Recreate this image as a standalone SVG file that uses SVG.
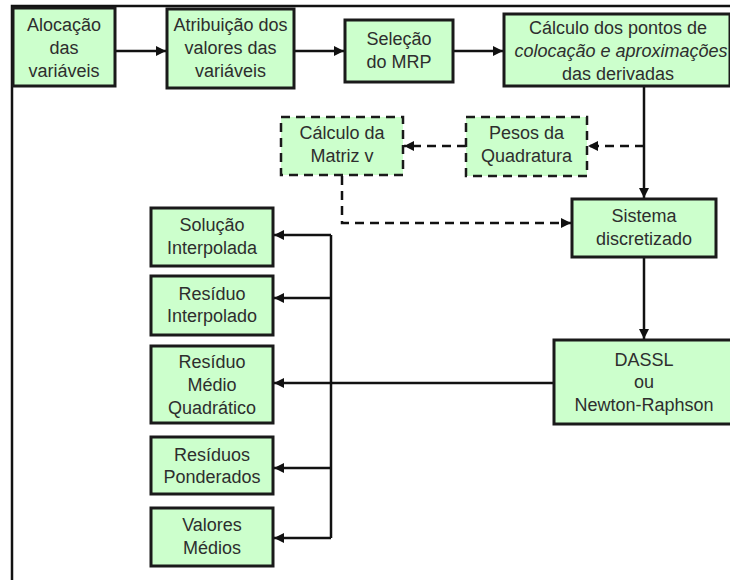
<svg xmlns="http://www.w3.org/2000/svg" width="730" height="580" viewBox="0 0 730 580">
<style>
.box{fill:#ccffcc;stroke:#1a1a1a;stroke-width:3}
.dbox{fill:#ccffcc;stroke:#1a1a1a;stroke-width:2.5;stroke-dasharray:9 6}
.t{font-family:"Liberation Sans",Arial,sans-serif;font-size:18px;fill:#2e2e2e;text-anchor:middle}
.ln{fill:none;stroke:#111;stroke-width:2.5}
.dl{fill:none;stroke:#111;stroke-width:2.5;stroke-dasharray:9 6}
.frame{fill:none;stroke:#111;stroke-width:2.5}
</style>
<defs>
<marker id="ah" viewBox="0 0 10 10" refX="10" refY="5" markerWidth="4" markerHeight="4" orient="auto" markerUnits="strokeWidth">
<path d="M0,0 L10,5 L0,10 z" fill="#111"/>
</marker>
</defs>
<rect width="730" height="580" fill="#fff"/>
<path class="frame" d="M12,580 V6 H730"/>
<g id="connectors">
<line class="ln" x1="115" y1="51" x2="166" y2="51" marker-end="url(#ah)"/>
<line class="ln" x1="294" y1="51" x2="344" y2="51" marker-end="url(#ah)"/>
<line class="ln" x1="453" y1="51" x2="503" y2="51" marker-end="url(#ah)"/>
<line class="ln" x1="644" y1="86" x2="644" y2="198" marker-end="url(#ah)"/>
<line class="dl" x1="644" y1="146" x2="588" y2="146" marker-end="url(#ah)"/>
<line class="dl" x1="466" y1="146" x2="404" y2="146" marker-end="url(#ah)"/>
<path class="dl" d="M342,176 V223 H571" marker-end="url(#ah)"/>
<line class="ln" x1="644" y1="257" x2="644" y2="339" marker-end="url(#ah)"/>
<line class="ln" x1="554" y1="383" x2="274" y2="383" marker-end="url(#ah)"/>
<line class="ln" x1="331" y1="235" x2="331" y2="538"/>
<line class="ln" x1="331" y1="235" x2="274" y2="235" marker-end="url(#ah)"/>
<line class="ln" x1="331" y1="298" x2="274" y2="298" marker-end="url(#ah)"/>
<line class="ln" x1="331" y1="468" x2="274" y2="468" marker-end="url(#ah)"/>
<line class="ln" x1="331" y1="538" x2="274" y2="538" marker-end="url(#ah)"/>
</g>
<g id="alocacao">
<rect class="box" x="13" y="8" width="102" height="78"/>
<text class="t" x="64" y="31">Alocação</text>
<text class="t" x="64" y="54">das</text>
<text class="t" x="64" y="77">variáveis</text>
</g>
<g id="atribuicao">
<rect class="box" x="167" y="9" width="127" height="79"/>
<text class="t" x="230.5" y="31">Atribuição dos</text>
<text class="t" x="230.5" y="54">valores das</text>
<text class="t" x="230.5" y="77">variáveis</text>
</g>
<g id="selecao">
<rect class="box" x="345" y="20" width="108" height="62"/>
<text class="t" x="399" y="45">Seleção</text>
<text class="t" x="399" y="68">do MRP</text>
</g>
<g id="calculo-pontos">
<rect class="box" x="504" y="14" width="226" height="72"/>
<text class="t" x="618" y="34">Cálculo dos pontos de</text>
<text class="t" x="621" y="57" font-style="italic">colocação e aproximações</text>
<text class="t" x="618" y="80">das derivadas</text>
</g>
<g id="matriz-v">
<rect class="dbox" x="281" y="117" width="122" height="58"/>
<text class="t" x="342" y="139">Cálculo da</text>
<text class="t" x="342" y="162">Matriz v</text>
</g>
<g id="pesos">
<rect class="dbox" x="466" y="117" width="121" height="59"/>
<text class="t" x="526.5" y="139">Pesos da</text>
<text class="t" x="526.5" y="162">Quadratura</text>
</g>
<g id="sistema">
<rect class="box" x="572" y="199" width="144" height="58"/>
<text class="t" x="644" y="222">Sistema</text>
<text class="t" x="644" y="245">discretizado</text>
</g>
<g id="dassl">
<rect class="box" x="554" y="340" width="180" height="84"/>
<text class="t" x="644" y="366">DASSL</text>
<text class="t" x="644" y="388">ou</text>
<text class="t" x="644" y="411">Newton-Raphson</text>
</g>
<g id="solucao">
<rect class="box" x="151" y="208" width="122" height="58"/>
<text class="t" x="212" y="231">Solução</text>
<text class="t" x="212" y="254">Interpolada</text>
</g>
<g id="residuo-interpolado">
<rect class="box" x="151" y="276" width="122" height="59"/>
<text class="t" x="212" y="300">Resíduo</text>
<text class="t" x="212" y="322">Interpolado</text>
</g>
<g id="residuo-medio">
<rect class="box" x="151" y="346" width="122" height="77"/>
<text class="t" x="212" y="368">Resíduo</text>
<text class="t" x="212" y="391">Médio</text>
<text class="t" x="212" y="414">Quadrático</text>
</g>
<g id="residuos-ponderados">
<rect class="box" x="151" y="437" width="122" height="57"/>
<text class="t" x="212" y="461">Resíduos</text>
<text class="t" x="212" y="483">Ponderados</text>
</g>
<g id="valores-medios">
<rect class="box" x="151" y="508" width="122" height="58"/>
<text class="t" x="212" y="531">Valores</text>
<text class="t" x="212" y="554">Médios</text>
</g>
</svg>
